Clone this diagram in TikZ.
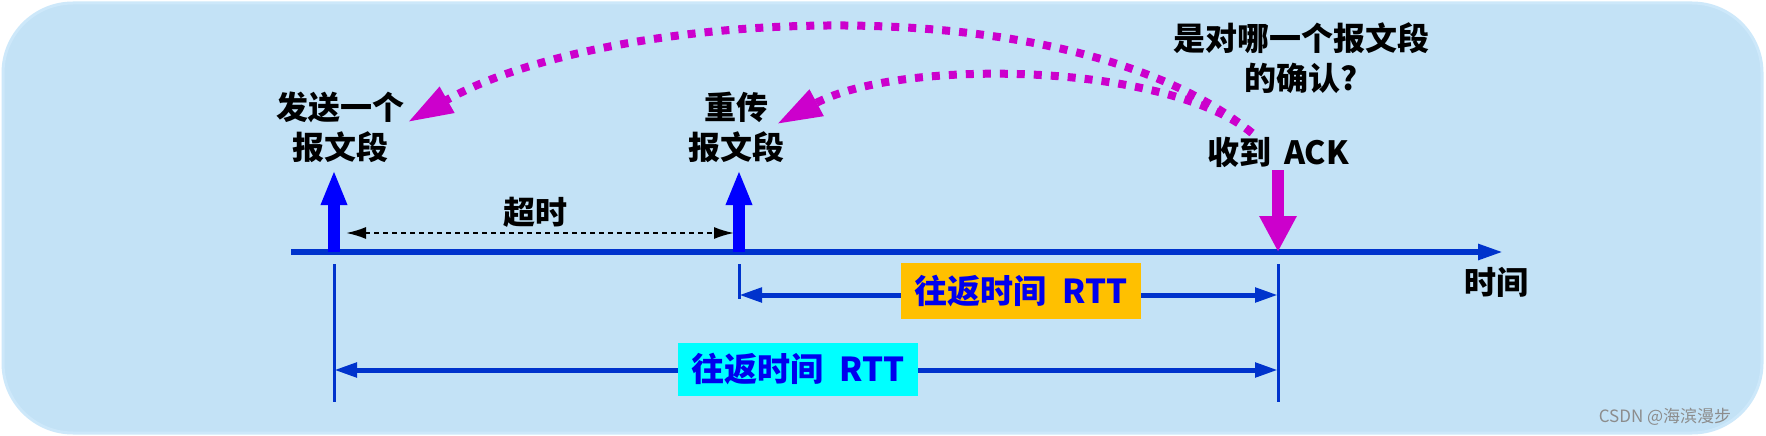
\documentclass[tikz,border=0pt]{standalone}
\usepackage{fontspec}
\newfontfamily\cjk{Noto Sans CJK SC}
\usetikzlibrary{arrows.meta}
\definecolor{bgblue}{HTML}{C3E2F6}
\definecolor{bgedge}{HTML}{CDE8FA}
\definecolor{axisblue}{HTML}{0033CC}
\definecolor{upblue}{HTML}{0000FF}
\definecolor{ackmag}{HTML}{CC00CC}
\definecolor{rttorange}{HTML}{FFC000}
\definecolor{rttcyan}{HTML}{00FFFF}
\definecolor{rtttext}{HTML}{0000EE}
\tikzset{
  lbl/.style={font=\cjk\bfseries\fontsize{32}{40}\selectfont, align=center, text=black, inner sep=0pt},
  rttbox/.style={font=\cjk\bfseries\fontsize{33}{38}\selectfont, text=rtttext, minimum width=240pt, minimum height=55pt, inner sep=0pt},
  uparrow/.style={draw=upblue, line width=12pt, -{Triangle[length=35pt,width=24pt]}},
  downarrow/.style={draw=ackmag, line width=12pt, -{Triangle[length=36pt,width=35pt]}},
  axisline/.style={draw=axisblue, line width=5.5pt, -{Triangle[length=25pt,width=15pt]}},
  tickline/.style={draw=axisblue, line width=3pt},
  rttline/.style={draw=axisblue, line width=5pt, {Triangle[length=23pt,width=14pt]}-{Triangle[length=23pt,width=14pt]}},
  toline/.style={draw=black, line width=2pt, dash pattern=on 5pt off 4pt, {Latex[length=20pt,width=12pt]}-{Latex[length=20pt,width=12pt]}},
  ackcurve/.style={draw=ackmag, line width=8pt, dash pattern=on 8pt off 9pt, -{Triangle[length=45pt,width=28pt]}}
}
\begin{document}
\begin{tikzpicture}[x=1pt,y=-1pt]
\useasboundingbox (0,0) rectangle (1766,436);
\fill[white] (0,0) rectangle (1766,436);
\draw[fill=bgblue, draw=bgedge, line width=3pt, rounded corners=70pt] (3,3) rectangle (1762,433);

% coordinates
\coordinate (ax0) at (291,252);
\coordinate (ax1) at (1503,252);
\coordinate (s1) at (334,252);
\coordinate (s1t) at (334,170);
\coordinate (s2) at (739,252);
\coordinate (s2t) at (739,170);
\coordinate (ackTop) at (1278,170);
\coordinate (ackTip) at (1278,252);

% time axis
\draw[axisline] (ax0) -- (ax1);

% vertical ticks
\coordinate (k1a) at (334,264); \coordinate (k1b) at (334,402);
\coordinate (k2a) at (739,264); \coordinate (k2b) at (739,299);
\coordinate (k3a) at (1278,264); \coordinate (k3b) at (1278,402);
\draw[tickline] (k1a) -- (k1b);
\draw[tickline] (k2a) -- (k2b);
\draw[tickline] (k3a) -- (k3b);

% send / resend arrows
\draw[uparrow] (s1) -- (s1t);
\draw[uparrow] (s2) -- (s2t);
\draw[downarrow] (ackTop) -- (ackTip);

% timeout
\coordinate (to0) at (346,233);
\coordinate (to1) at (734,233);
\draw[toline] (to0) -- (to1);
\node[lbl] (chaoshi) at (535,212) {超时};

% RTT arrows
\coordinate (r1a) at (739,295); \coordinate (r1b) at (1278,295);
\coordinate (r2a) at (334,370); \coordinate (r2b) at (1278,370);
\draw[rttline] (r1a) -- (r1b);
\draw[rttline] (r2a) -- (r2b);
\node[rttbox, fill=rttorange, minimum height=56pt] (rtt1) at (1021,291) {往返时间\hspace{0.5em}RTT};
\node[rttbox, fill=rttcyan, minimum height=53pt] (rtt2) at (798,369) {往返时间\hspace{0.5em}RTT};

% labels
\node[lbl] (send) at (340,127) {发送一个\\报文段};
\node[lbl] (resend) at (736,127) {重传\\报文段};
\node[lbl] (ack) at (1278,152) {收到\hspace{0.4em}ACK};
\node[lbl] (question) at (1301,58) {是对哪一个报文段\\的确认?};
\node[lbl] (time) at (1496,282) {时间};

% dotted curves
\coordinate (c0) at (1252,133);
\coordinate (c1) at (408,122);
\coordinate (d1) at (777,124);
\draw[ackcurve] (c0) .. controls (1065,-20) and (605,10) .. (c1);
\draw[ackcurve] (c0) .. controls (1165,62) and (900,58) .. (d1);

% watermark
\node[font=\cjk\fontsize{17}{20}\selectfont, text=black!45, inner sep=0pt] (wm) at (1665,417) {CSDN @海滨漫步};
\end{tikzpicture}
\end{document}
